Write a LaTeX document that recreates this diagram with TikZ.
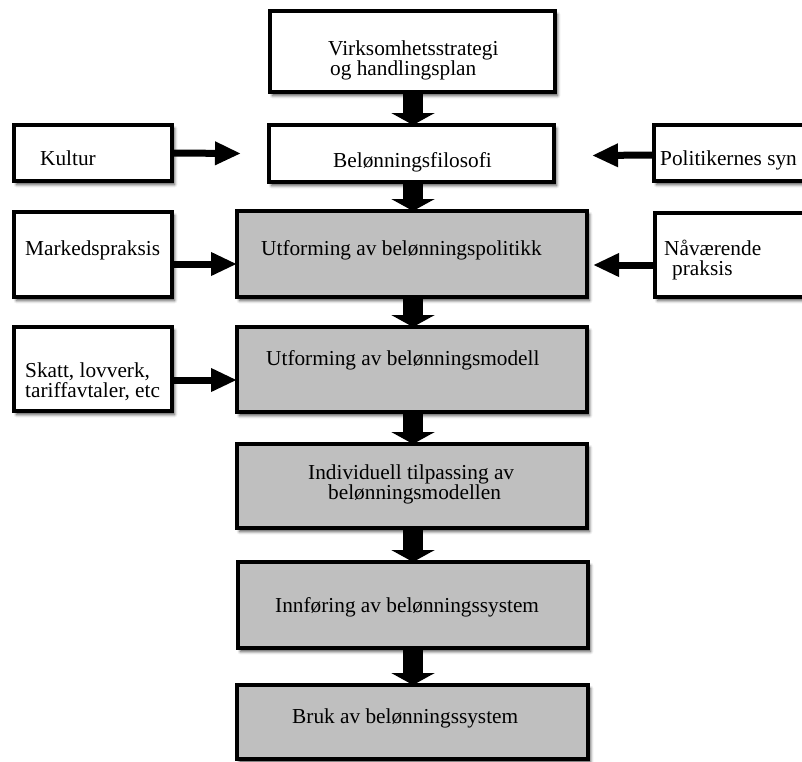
\documentclass[tikz,border=0pt]{standalone}
\usepackage{fontspec}
\setmainfont{Liberation Serif}
\usetikzlibrary{arrows.meta,shadows.blur}
\definecolor{boxgrey}{RGB}{191,191,191}
\begin{document}
\begin{tikzpicture}[x=1pt,y=-1pt,
  box/.style={draw=black, line width=3.2pt, inner sep=0pt, outer sep=0pt,
    blur shadow={shadow xshift=2.5pt, shadow yshift=-3.5pt, shadow blur radius=3pt, shadow opacity=70}},
  whitebox/.style={box, fill=white},
  greybox/.style={box, fill=boxgrey},
  txt/.style={inner sep=0pt, anchor=base west, font=\fontsize{21.3}{20.5}\selectfont},
  varrow/.style={line width=20pt, -{Triangle[length=12pt, width=43pt]}},
  harrow/.style={line width=7pt, -{Triangle[length=26pt, width=22pt]}}]
\useasboundingbox (0,0) rectangle (802,761);
\clip (0,0) rectangle (802,761);

% main column
\node[whitebox, minimum width=285pt, minimum height=81pt] (strat) at (412.5,51.5) {};
\node[whitebox, minimum width=285pt, minimum height=57pt] (filo) at (411.5,153.5) {};
\node[greybox, minimum width=350pt, minimum height=86pt] (politikk) at (412,254) {};
\node[greybox, minimum width=350pt, minimum height=85pt] (modell) at (412,369.5) {};
\node[greybox, minimum width=350pt, minimum height=84pt] (indiv) at (412,486) {};
\node[greybox, minimum width=350pt, minimum height=86pt] (innf) at (413,605) {};
\node[greybox, minimum width=351pt, minimum height=74pt] (bruk) at (412.5,722) {};

% side inputs
\node[whitebox, minimum width=158pt, minimum height=56pt] (kultur) at (93,153) {};
\node[whitebox, minimum width=158pt, minimum height=85pt] (markeds) at (93,254.5) {};
\node[whitebox, minimum width=158pt, minimum height=84pt] (skatt) at (93,369) {};
\node[whitebox, minimum width=176pt, minimum height=56pt] (polit) at (742,153) {};
\node[whitebox, minimum width=175pt, minimum height=84pt] (navaer) at (742.5,255) {};

% texts
\node[txt] (t-strat) at (328,55) {\parbox[t]{220pt}{\raggedright Virksomhetsstrategi\\\hspace*{2pt}og handlingsplan}};
\node[txt] (t-filo) at (333,167) {Belønningsfilosofi};
\node[txt] (t-politikk) at (261,255) {Utforming av belønningspolitikk};
\node[txt] (t-modell) at (266,365) {Utforming av belønningsmodell};
\node[txt] (t-indiv) at (308,479) {\parbox[t]{250pt}{\raggedright Individuell tilpassing av\\\hspace*{20pt}belønningsmodellen}};
\node[txt] (t-innf) at (275,612) {Innføring av belønningssystem};
\node[txt] (t-bruk) at (292,723) {Bruk av belønningssystem};
\node[txt] (t-kultur) at (40,165) {Kultur};
\node[txt] (t-markeds) at (25,255) {Markedspraksis};
\node[txt] (t-skatt) at (25,377) {\parbox[t]{150pt}{\raggedright Skatt, lovverk,\\tariffavtaler, etc}};
\node[txt] (t-polit) at (660,165) {Politikernes syn};
\node[txt] (t-navaer) at (664,255) {\parbox[t]{140pt}{\raggedright Nåværende\\\hspace*{8pt}praksis}};

% flow downwards
\draw[varrow] ([xshift=0.5pt]strat.south) -- ([xshift=1.5pt]filo.north);
\draw[varrow] ([xshift=1.5pt]filo.south) -- ([xshift=1pt]politikk.north);
\draw[varrow] ([xshift=1pt]politikk.south) -- ([xshift=1pt]modell.north);
\draw[varrow] ([xshift=1pt]modell.south) -- ([xshift=1pt]indiv.north);
\draw[varrow] ([xshift=1pt]indiv.south) -- (innf.north);
\draw[varrow] (innf.south) -- ([xshift=0.5pt]bruk.north);

% influences from the sides
\draw[harrow] (kultur.east) -- ([xshift=-28pt]filo.west);
\draw[harrow] ([yshift=-2pt]polit.west) -- ([xshift=38pt,yshift=-2pt]filo.east);
\draw[harrow] ([yshift=-9.5pt]markeds.east) -- ([yshift=-10pt]politikk.west);
\draw[harrow] ([yshift=-10pt]navaer.west) -- ([xshift=6pt,yshift=-11pt]politikk.east);
\draw[harrow] ([yshift=-11pt]skatt.east) -- ([yshift=-10.5pt]modell.west);
\end{tikzpicture}
\end{document}
